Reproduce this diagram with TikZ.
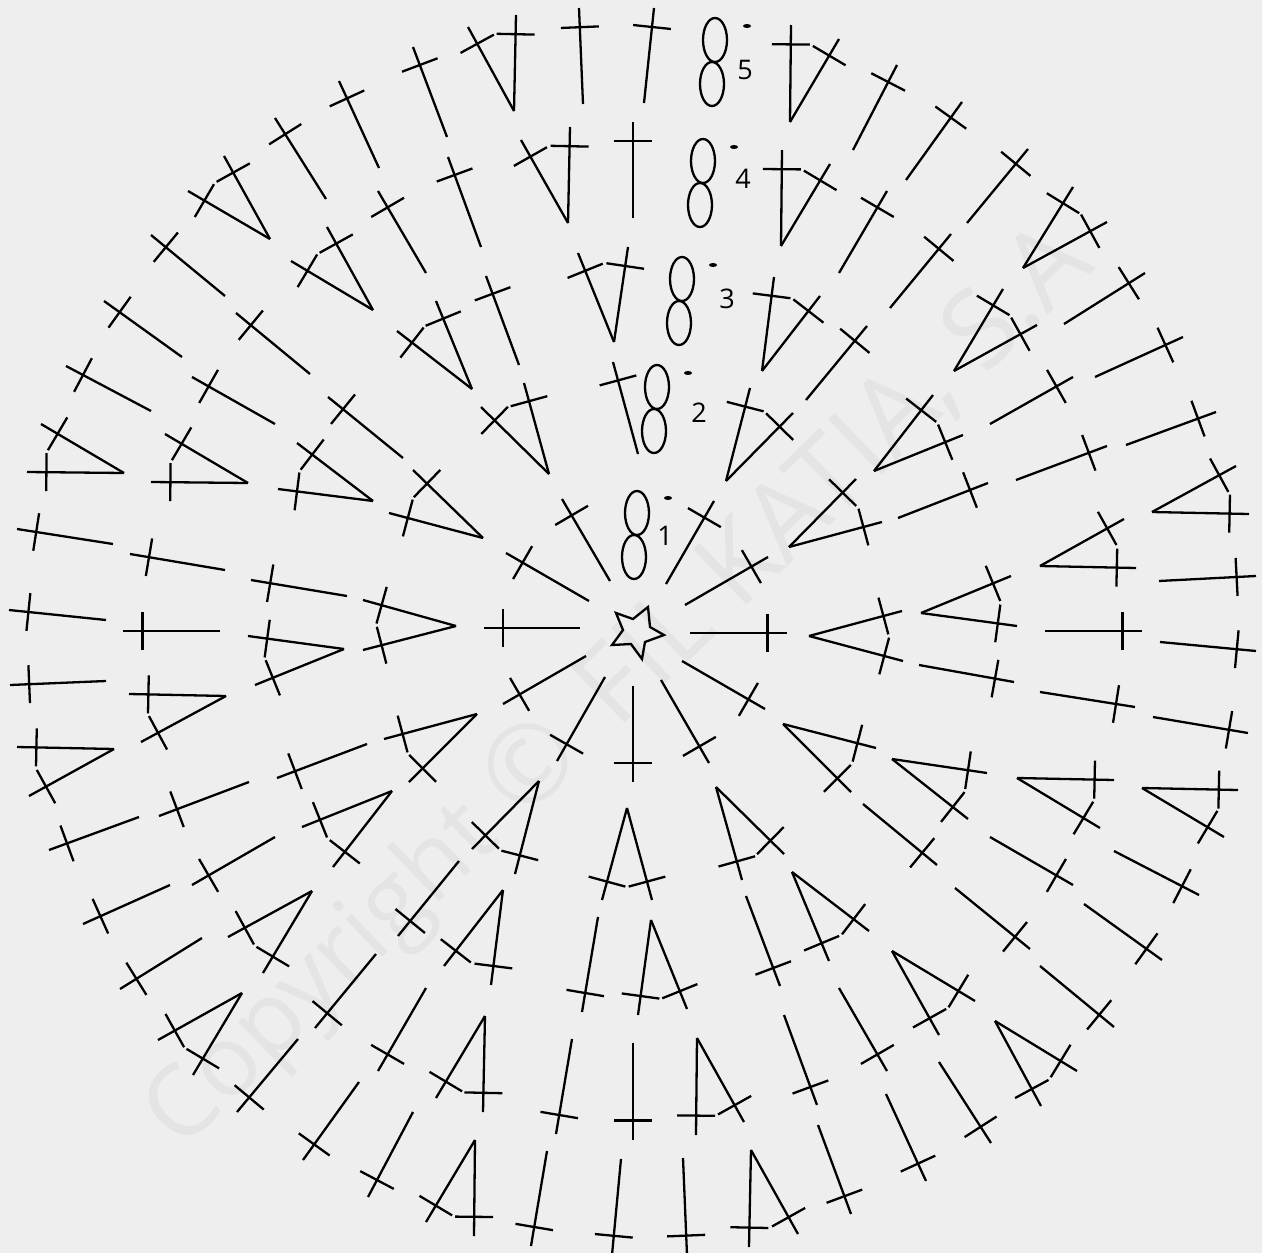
\documentclass[tikz,border=0pt]{standalone}
\usepackage{fontspec}
\setmainfont{Open Sans}
\usepackage{tikz}
\usetikzlibrary{calc}
\definecolor{paper}{HTML}{EEEEEE}
\definecolor{stamp}{HTML}{E4E4E4}
\tikzset{
  stitchline/.style={line width=2.3pt},
  chainloop/.style={line width=2.3pt},
  rowlabel/.style={font=\fontsize{27}{27}\selectfont, text=black, inner sep=0pt}
}
% stem from inner end to outer end, bar across it near the outer end
\newcommand{\stitch}[2]{
  \draw[stitchline] (#1) -- (#2);
  \draw[stitchline] ($(#1)!.8!(#2)!19pt!90:(#2)$) -- ($(#1)!.8!(#2)!19pt!-90:(#2)$);
}
\newcommand{\fan}[3]{\stitch{#1}{#2}\stitch{#1}{#3}}
\newcommand{\chainmark}[3]{
  \draw[chainloop] (#1) ellipse [x radius=12, y radius=22];
  \draw[chainloop] (#2) ellipse [x radius=12, y radius=22];
  \fill (#3) ellipse [x radius=4, y radius=2];
}

\begin{document}
\begin{tikzpicture}[x=1pt, y=-1pt]
    \useasboundingbox (0,0) rectangle (1262,1253);
    \fill[paper] (0,0) rectangle (1262,1253);
    \node[rotate=44, text=stamp, inner sep=0pt, font=\fontsize{108}{108}\selectfont] (copyright) at (620,690) {{\fontsize{99}{99}\selectfont Copyright} ©\hspace{42pt}FIL KATIA, S.A};
    % centre
    \draw[chainloop] (616,613) -- (633,619) -- (648,607) -- (650,627) -- (664,635) -- (645,642) -- (642,659) -- (631,644) -- (612,645) -- (623,630) -- cycle;
    % row 1
    \stitch{580,628}{484,628}
    \stitch{589,601}{506,553}
    \stitch{610,581}{562,499}
    \stitch{666,584}{714,501}
    \stitch{685,605}{768,557}
    \stitch{690,633}{787,633}
    \stitch{682,661}{765,709}
    \stitch{661,680}{709,763}
    \stitch{633,686}{633,782}
    \stitch{605,677}{557,761}
    \stitch{586,656}{503,704}
    % row 2
    \stitch{638,454}{613,362}
    \fan{726,481}{750,388}{793,413}
    \stitch{806,400}{867,326}
    \fan{789,547}{856,479}{882,522}
    \fan{809,636}{902,611}{903,661}
    \fan{783,724}{876,748}{851,792}
    \fan{716,787}{742,880}{784,854}
    \fan{627,808}{602,900}{652,900}
    \fan{539,781}{515,874}{472,849}
    \fan{477,714}{384,739}{409,782}
    \fan{456,626}{363,600}{363,650}
    \fan{483,538}{389,513}{413,470}
    \stitch{403,458}{328,397}
    \fan{549,474}{481,407}{524,383}
    % row 3
    \fan{614,342}{578,253}{628,247}
    \fan{762,371}{774,277}{820,296}
    \stitch{839,273}{887,191}
    \stitch{890,308}{951,234}
    \fan{874,471}{933,395}{963,435}
    \stitch{898,518}{988,483}
    \fan{921,613}{1011,576}{1017,626}
    \stitch{919,665}{1014,682}
    \fan{892,759}{987,773}{968,819}
    \stitch{863,804}{937,865}
    \fan{792,872}{869,931}{829,961}
    \stitch{746,896}{780,986}
    \fan{651,920}{638,1015}{687,1009}
    \stitch{598,917}{582,1012}
    \fan{503,890}{491,985}{444,966}
    \stitch{459,861}{398,936}
    \fan{392,791}{302,827}{333,867}
    \stitch{367,744}{277,778}
    \fan{344,649}{248,636}{255,685}
    \stitch{347,596}{251,580}
    \fan{373,501}{278,489}{297,443}
    \stitch{310,374}{236,313}
    \fan{472,389}{397,331}{436,301}
    \stitch{519,365}{486,276}
    % row 4
    \fan{568,223}{521,140}{570,127}
    \stitch{633,218}{633,122}
    \fan{781,246}{782,150}{830,164}
    \stitch{967,223}{1028,149}
    \fan{954,371}{1003,289}{1037,325}
    \stitch{990,424}{1073,377}
    \stitch{1016,480}{1107,446}
    \fan{1040,566}{1124,519}{1136,568}
    \stitch{1045,631}{1142,631}
    \stitch{1040,692}{1135,707}
    \fan{1017,778}{1114,780}{1100,828}
    \stitch{990,837}{1073,885}
    \stitch{955,888}{1030,949}
    \fan{892,951}{975,1001}{939,1035}
    \stitch{839,988}{887,1071}
    \stitch{784,1015}{817,1105}
    \fan{697,1038}{696,1135}{744,1122}
    \stitch{633,1043}{633,1140}
    \stitch{572,1039}{556,1134}
    \fan{485,1016}{483,1112}{436,1098}
    \stitch{426,988}{378,1071}
    \stitch{376,954}{315,1028}
    \fan{312,891}{228,937}{263,973}
    \stitch{275,837}{192,885}
    \stitch{249,782}{159,816}
    \fan{226,696}{129,694}{141,742}
    \stitch{220,631}{123,631}
    \stitch{225,570}{130,554}
    \fan{248,483}{151,482}{165,434}
    \stitch{275,424}{192,377}
    \stitch{225,296}{151,235}
    \fan{373,310}{291,261}{327,227}
    \stitch{426,273}{378,191}
    \stitch{481,247}{448,157}
    % row 5
    \fan{514,111}{468,27}{516,15}
    \stitch{583,104}{579,8}
    \stitch{644,103}{654,8}
    \fan{790,122}{791,25}{839,39}
    \stitch{853,150}{897,65}
    \stitch{906,180}{962,102}
    \fan{1023,268}{1073,187}{1107,222}
    \stitch{1064,324}{1145,273}
    \stitch{1095,377}{1183,337}
    \stitch{1126,445}{1216,412}
    \fan{1152,512}{1236,466}{1249,514}
    \stitch{1159,581}{1256,576}
    \stitch{1160,642}{1256,651}
    \stitch{1153,717}{1248,733}
    \fan{1142,788}{1238,790}{1224,837}
    \stitch{1114,851}{1199,895}
    \stitch{1084,904}{1162,960}
    \stitch{1040,966}{1114,1027}
    \fan{995,1021}{1077,1071}{1041,1106}
    \stitch{939,1062}{991,1143}
    \stitch{886,1094}{926,1181}
    \stitch{818,1125}{851,1214}
    \fan{751,1150}{749,1247}{798,1234}
    \stitch{683,1158}{687,1255}
    \stitch{621,1159}{612,1255}
    \stitch{547,1151}{531,1246}
    \fan{475,1140}{474,1236}{426,1222}
    \stitch{413,1112}{368,1197}
    \stitch{359,1082}{303,1160}
    \stitch{298,1039}{237,1112}
    \fan{242,993}{158,1040}{193,1075}
    \stitch{202,938}{120,989}
    \stitch{170,885}{83,924}
    \stitch{139,817}{49,850}
    \fan{114,749}{17,747}{29,796}
    \stitch{106,681}{10,685}
    \stitch{106,620}{9,610}
    \stitch{113,544}{17,529}
    \fan{124,473}{27,472}{41,424}
    \stitch{151,411}{66,366}
    \stitch{182,357}{104,301}
    \fan{270,239}{188,191}{224,156}
    \stitch{326,199}{275,118}
    \stitch{379,168}{339,81}
    \stitch{447,137}{413,47}
    % chains and row numbers
    \chainmark{637,513}{634,557}{668,498}
    \chainmark{657,387}{654,431}{688,373}
    \chainmark{682,279}{679,323}{713,265}
    \chainmark{703,161}{700,205}{734,147}
    \chainmark{715,40}{712,84}{747,26}
    \node[rowlabel] (row1) at (665,536) {1};
    \node[rowlabel] (row2) at (699,413) {2};
    \node[rowlabel] (row3) at (727,299) {3};
    \node[rowlabel] (row4) at (743,179) {4};
    \node[rowlabel] (row5) at (745,70) {5};
\end{tikzpicture}
\end{document}
